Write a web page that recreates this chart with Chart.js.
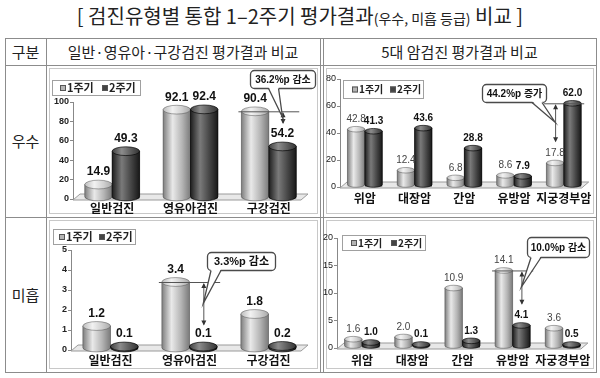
<!DOCTYPE html>
<html>
<head>
<meta charset="utf-8">
<script src="https://cdn.jsdelivr.net/npm/chart.js@4.4.0/dist/chart.umd.min.js"></script>
<style>
  body { margin: 0; background: #fff; font-family: 'Noto Sans CJK KR', sans-serif; }
  #wrap { position: relative; width: 600px; height: 378px; overflow: hidden; }
  .t { position: absolute; color: #222; white-space: nowrap; text-align: center; }
  .ln { position: absolute; background: #8c8c8c; }
  .frame { position: absolute; border: 1px solid #c8c8c8; box-sizing: border-box; }
  canvas { position: absolute; }
</style>
</head>
<body>
<div id="wrap">
  <div class="t" style="left:0;width:600px;top:5px;font-size:20px;line-height:22px;">[ 검진유형별 통합 1–2주기 평가결과<span style="font-size:14px">(우수, 미흡 등급)</span> 비교 ]</div>

  <!-- table lines -->
  <div class="ln" style="left:5px;top:38px;width:592px;height:1px"></div>
  <div class="ln" style="left:5px;top:65px;width:592px;height:1px"></div>
  <div class="ln" style="left:5px;top:217px;width:592px;height:1px"></div>
  <div class="ln" style="left:5px;top:372px;width:592px;height:1px"></div>
  <div class="ln" style="left:5px;top:38px;width:1px;height:335px"></div>
  <div class="ln" style="left:46px;top:38px;width:1px;height:335px"></div>
  <div class="ln" style="left:320px;top:38px;width:1px;height:335px"></div>
  <div class="ln" style="left:323px;top:38px;width:1px;height:335px"></div>
  <div class="ln" style="left:596px;top:38px;width:1px;height:335px"></div>

  <div class="t" style="left:5px;width:41px;top:42px;font-size:15px;line-height:20px;">구분</div>
  <div class="t" style="left:46px;width:274px;top:42px;font-size:15px;line-height:20px;">일반·영유아·구강검진 평가결과 비교</div>
  <div class="t" style="left:323px;width:273px;top:42px;font-size:15px;line-height:20px;">5대 암검진 평가결과 비교</div>
  <div class="t" style="left:5px;width:41px;top:131px;font-size:15px;line-height:20px;">우수</div>
  <div class="t" style="left:5px;width:41px;top:285px;font-size:15px;line-height:20px;">미흡</div>

  <div class="frame" style="left:49px;top:68px;width:269px;height:146px"></div>
  <div class="frame" style="left:326px;top:68px;width:268px;height:146px"></div>
  <div class="frame" style="left:49px;top:220px;width:269px;height:149px"></div>
  <div class="frame" style="left:326px;top:220px;width:268px;height:149px"></div>

  <canvas id="c1" width="274" height="152" style="left:46px;top:65px"></canvas>
  <canvas id="c2" width="273" height="152" style="left:323px;top:65px"></canvas>
  <canvas id="c3" width="274" height="155" style="left:46px;top:217px"></canvas>
  <canvas id="c4" width="273" height="155" style="left:323px;top:217px"></canvas>
</div>
<script>
// 데이터
var seriesNames = ['1주기', '2주기'];
var catsGeneral = ['일반검진', '영유아검진', '구강검진'];
var catsCancerTop = ['위암', '대장암', '간암', '유방암', '지궁경부암'];
var catsCancerBottom = ['위암', '대장암', '간암', '유방암', '자궁경부암'];

var goodGeneral1 = [14.9, 92.1, 90.4];
var goodGeneral2 = [49.3, 92.4, 54.2];
var goodCancer1 = [42.8, 12.4, 6.8, 8.6, 17.8];
var goodCancer2 = [41.3, 43.6, 28.8, 7.9, 62.0];
var poorGeneral1 = [1.2, 3.4, 1.8];
var poorGeneral2 = [0.1, 0.1, 0.2];
var poorCancer1 = [1.6, 2.0, 10.9, 14.1, 3.6];
var poorCancer2 = [1.0, 0.1, 1.3, 4.1, 0.5];

var calloutTexts = ['36.2%p 감소', '44.2%p 증가', '3.3%p 감소', '10.0%p 감소'];
var calloutCats = [2, 4, 1, 3];

var KR = "'Noto Sans CJK KR'";
var NUM = "'Liberation Sans', Arial";
var NARROW = "'Liberation Sans Narrow', 'Liberation Sans', Arial";

var shades = [
  {body: ['#7e7e7e', '#e9e9e9', '#b4b4b4', '#7a7a7a'], cap: ['#bdbdbd', '#f2f2f2', '#cfcfcf', '#a9a9a9'], edge: 'rgba(60,60,60,0.55)'},
  {body: ['#1e1e1e', '#7a7a7a', '#444444', '#181818'], cap: ['#404040', '#8c8c8c', '#5a5a5a', '#333333'], edge: 'rgba(0,0,0,0.8)'}
];

function grad(ctx, l, r, stops) {
  var g = ctx.createLinearGradient(l, 0, r, 0);
  g.addColorStop(0, stops[0]);
  g.addColorStop(0.35, stops[1]);
  g.addColorStop(0.7, stops[2]);
  g.addColorStop(1, stops[3]);
  return g;
}

function makePlugin(cfg) {
  return {
    id: 'cyl',
    beforeDatasetsDraw: function (chart) {
      var ctx = chart.ctx, a = chart.chartArea;
      var y0 = chart.scales.y.getPixelForValue(0);
      ctx.save();
      ctx.beginPath();
      ctx.moveTo(a.left, y0 + 1);
      ctx.lineTo(a.left + 7, y0 - 5);
      ctx.lineTo(a.right, y0 - 5);
      ctx.lineTo(a.right - 7, y0 + 1);
      ctx.closePath();
      ctx.fillStyle = '#e8e8e8';
      ctx.fill();
      ctx.strokeStyle = '#9a9a9a';
      ctx.lineWidth = 1;
      ctx.stroke();
      ctx.restore();
    },
    afterDatasetsDraw: function (chart) {
      var ctx = chart.ctx;
      var ys = chart.scales.y;
      var labels = [];
      ctx.save();
      chart.data.datasets.forEach(function (ds, di) {
        var meta = chart.getDatasetMeta(di);
        var sh = shades[di];
        meta.data.forEach(function (bar, i) {
          var p = bar.getProps(['x', 'y', 'base', 'width'], true);
          var rx = p.width / 2, ry = Math.max(2.5, p.width * 0.16);
          var l = p.x - rx, r = p.x + rx;
          var base = p.base - 2;
          var top = Math.min(p.y, base - 1);
          ctx.beginPath();
          ctx.moveTo(l, top);
          ctx.lineTo(l, base);
          ctx.ellipse(p.x, base, rx, ry, 0, Math.PI, 0, true);
          ctx.lineTo(r, top);
          ctx.closePath();
          ctx.fillStyle = grad(ctx, l, r, sh.body);
          ctx.fill();
          ctx.strokeStyle = sh.edge;
          ctx.lineWidth = 0.8;
          ctx.stroke();
          ctx.beginPath();
          ctx.ellipse(p.x, top, rx, ry, 0, 0, Math.PI * 2);
          ctx.fillStyle = grad(ctx, l, r, sh.cap);
          ctx.fill();
          ctx.stroke();
          labels.push({x: p.x, y: top - ry - 2, v: ds.data[i], di: di});
        });
      });
      // value labels
      ctx.textAlign = 'center';
      ctx.textBaseline = 'bottom';
      labels.forEach(function (lb) {
        var st = cfg.valueStyle[lb.di];
        ctx.font = st.font;
        ctx.fillStyle = st.color;
        ctx.fillText(lb.v.toFixed(1), lb.x, lb.y);
      });

      // legend box
      var lg = cfg.legend;
      ctx.fillStyle = '#fff';
      ctx.fillRect(lg.x, lg.y, lg.w, lg.h);
      ctx.strokeStyle = '#a0a0a0';
      ctx.lineWidth = 1;
      ctx.strokeRect(lg.x + 0.5, lg.y + 0.5, lg.w, lg.h);
      ctx.textAlign = 'left';
      ctx.textBaseline = 'middle';
      ctx.font = 'bold ' + lg.size + 'px ' + KR;
      chart.data.datasets.forEach(function (ds, di) {
        var ix = lg.x + lg.pad + di * lg.step;
        var cy = lg.y + lg.h / 2 + 0.5;
        ctx.fillStyle = shades[di].body[2];
        ctx.fillRect(ix, cy - 3, 6, 6);
        ctx.strokeStyle = '#555';
        ctx.strokeRect(ix + 0.5, cy - 2.5, 5, 5);
        ctx.fillStyle = '#222';
        ctx.fillText(ds.label, ix + 7, cy);
      });

      // callout
      var co = cfg.callout;
      var k = co.k;
      var m0 = chart.getDatasetMeta(0).data[k], m1 = chart.getDatasetMeta(1).data[k];
      var v0 = chart.data.datasets[0].data[k], v1 = chart.data.datasets[1].data[k];
      var hi = Math.max(v0, v1), lo = Math.min(v0, v1);
      var loBar = v0 < v1 ? m0 : m1;
      var bw = m0.getProps(['width'], true).width;
      var x0 = m0.getProps(['x'], true).x - bw / 2 - 3;
      var x1 = m1.getProps(['x'], true).x + bw / 2 + 3;
      var ax = loBar.getProps(['x'], true).x;
      var yHi = ys.getPixelForValue(hi);
      var yEnd = ys.getPixelForValue(lo) - Math.max(2.5, bw * 0.16) - 19;
      ctx.strokeStyle = '#555';
      ctx.lineWidth = 1;
      ctx.beginPath();
      ctx.moveTo(x0, yHi + 0.5);
      ctx.lineTo(x1, yHi + 0.5);
      ctx.moveTo(ax + 0.5, yHi + 2);
      ctx.lineTo(ax + 0.5, yEnd);
      ctx.stroke();
      ctx.fillStyle = '#333';
      ctx.beginPath();
      ctx.moveTo(ax + 0.5, yHi + 1);
      ctx.lineTo(ax - 2, yHi + 6);
      ctx.lineTo(ax + 3, yHi + 6);
      ctx.closePath();
      ctx.moveTo(ax + 0.5, yEnd + 1);
      ctx.lineTo(ax - 2, yEnd - 4);
      ctx.lineTo(ax + 3, yEnd - 4);
      ctx.closePath();
      ctx.fill();

      var b = co.box;
      var tx = ax, ty = (yHi + yEnd) / 2;
      var b1 = Math.min(Math.max(tx - 14, b[0] + 4), b[0] + b[2] - 14);
      var bb = b[1] + b[3];
      ctx.beginPath();
      ctx.roundRect(b[0] + 0.5, b[1] + 0.5, b[2], b[3], 4);
      ctx.fillStyle = '#fff';
      ctx.fill();
      ctx.strokeStyle = '#4a4a4a';
      ctx.lineWidth = 1.3;
      ctx.stroke();
      ctx.beginPath();
      ctx.moveTo(b1, bb - 1);
      ctx.lineTo(tx, ty);
      ctx.lineTo(b1 + 10, bb - 1);
      ctx.closePath();
      ctx.fill();
      ctx.beginPath();
      ctx.moveTo(b1, bb + 0.5);
      ctx.lineTo(tx, ty);
      ctx.lineTo(b1 + 10, bb + 0.5);
      ctx.stroke();
      ctx.fillStyle = '#111';
      ctx.font = 'bold ' + co.size + 'px ' + NUM + ', ' + KR;
      ctx.textAlign = 'center';
      ctx.textBaseline = 'middle';
      ctx.fillText(co.text, b[0] + b[2] / 2 + 0.5, b[1] + b[3] / 2 + 1);
      ctx.restore();
    }
  };
}

function makeChart(id, cats, d1, d2, cfg) {
  return new Chart(document.getElementById(id), {
    type: 'bar',
    data: {
      labels: cats,
      datasets: [
        {label: seriesNames[0], data: d1, backgroundColor: '#b4b4b4'},
        {label: seriesNames[1], data: d2, backgroundColor: '#3c3c3c'}
      ]
    },
    options: {
      responsive: false,
      animation: false,
      devicePixelRatio: 1,
      layout: {padding: {top: cfg.top, right: cfg.right, left: 0, bottom: 0}},
      datasets: {bar: {categoryPercentage: 0.7, barPercentage: 1}},
      scales: {
        x: {
          grid: {display: false, drawTicks: false},
          border: {display: false},
          ticks: {padding: cfg.xPad, color: '#111', maxRotation: 0, autoSkip: false,
                  font: {family: KR, size: 12, weight: 'bold'}},
          afterFit: function (s) { s.height = cfg.bottom; }
        },
        y: {
          min: 0, max: cfg.max,
          ticks: {stepSize: cfg.step, padding: 1, color: '#222', font: cfg.yFont},
          grid: {drawOnChartArea: false, tickLength: 3, color: '#888'},
          border: {color: '#888'},
          afterFit: function (s) { s.width = cfg.left; }
        }
      },
      plugins: {legend: {display: false}, tooltip: {enabled: false}}
    },
    plugins: [makePlugin(cfg)]
  });
}

var leftValues = [
  {font: 'bold 12px ' + NUM, color: '#111'},
  {font: 'bold 12px ' + NUM, color: '#111'}
];
var rightValues = [
  {font: '10px ' + NARROW, color: '#444'},
  {font: 'bold 10px ' + NARROW, color: '#111'}
];

makeChart('c1', catsGeneral, goodGeneral1, goodGeneral2, {
  left: 27, top: 37, right: 12, bottom: 18, xPad: 2, max: 100, step: 20,
  yFont: {family: NUM, size: 9, weight: 'bold'}, valueStyle: leftValues,
  legend: {x: 6, y: 15, w: 88, h: 15, pad: 8, step: 42, size: 11},
  callout: {k: calloutCats[0], text: calloutTexts[0], box: [204, 5, 65, 18], size: 10}
});
makeChart('c2', catsCancerTop, goodCancer1, goodCancer2, {
  left: 17, top: 14, right: 6, bottom: 30, xPad: 4, max: 80, step: 20,
  yFont: {family: NARROW, size: 9}, valueStyle: rightValues,
  legend: {x: 20, y: 15, w: 80, h: 18, pad: 9, step: 38, size: 10},
  callout: {k: calloutCats[1], text: calloutTexts[1], box: [159, 19, 64, 18], size: 10}
});
makeChart('c3', catsGeneral, poorGeneral1, poorGeneral2, {
  left: 25, top: 33, right: 12, bottom: 22, xPad: 3, max: 5, step: 1,
  yFont: {family: NUM, size: 9, weight: 'bold'}, valueStyle: leftValues,
  legend: {x: 7, y: 12, w: 82, h: 15, pad: 6, step: 40, size: 11},
  callout: {k: calloutCats[2], text: calloutTexts[2], box: [161, 35, 68, 18], size: 11}
});
makeChart('c4', catsCancerBottom, poorCancer1, poorCancer2, {
  left: 14, top: 21, right: 6, bottom: 24, xPad: 5, max: 20, step: 5,
  yFont: {family: NARROW, size: 9}, valueStyle: rightValues,
  legend: {x: 19, y: 18, w: 83, h: 15, pad: 9, step: 40, size: 10},
  callout: {k: calloutCats[3], text: calloutTexts[3], box: [204, 20, 62, 20], size: 10}
});
</script>
</body>
</html>
